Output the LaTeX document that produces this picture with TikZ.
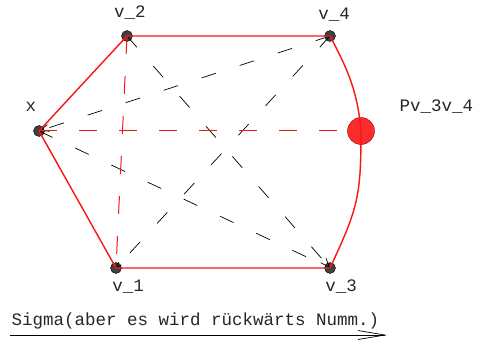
\documentclass[tikz,border=0pt]{standalone}
\usepackage{fontspec}
\setmonofont{Liberation Mono}
\usetikzlibrary{arrows.meta, positioning}
\definecolor{LineRed}{RGB}{250, 20, 20}
\definecolor{DotGray}{RGB}{64, 64, 64}

\begin{document}
\begin{tikzpicture}[x=1pt, y=-1pt,
    every node/.style={font=\ttfamily\fontsize{17.5}{18}\selectfont, text=black!85},
    vertex/.style={circle, draw=black, fill=DotGray, inner sep=0pt, minimum size=11pt},
    pnode/.style={circle, draw=red!60!black, fill=LineRed!90, inner sep=0pt, minimum size=27pt},
    rim/.style={draw=LineRed, line width=1.4pt},
    reddash/.style={color=LineRed, line width=1pt, dash pattern=on 18pt off 22pt},
    diag/.style={draw=black, line width=0.7pt, dash pattern=on 15pt off 25pt},
    arrowtip/.style={-{Straight Barb[length=9pt, width=7pt]}}
]
\useasboundingbox (0,0) rectangle (489,344);

% vertices
\node[vertex] (x) at (39,131) {};
\node[vertex] (v2) at (127,36) {};
\node[vertex] (v4) at (330,36) {};
\node[vertex] (v1) at (116,268) {};
\node[vertex] (v3) at (330,268) {};
\node[pnode] (p) at (361,131) {};

% labels
\node (lx) at (31,107) {x};
\node (lv2) at (130,13) {v\_2};
\node (lv4) at (334,15) {v\_4};
\node (lv1) at (128,287) {v\_1};
\node (lv3) at (341,287) {v\_3};
\node[anchor=west] (lp) at (396,107) {Pv\_3v\_4};

% diagonals
\draw[diag, arrowtip] (v2.center) -- (v3.center);
\draw[diag, arrowtip] (v4.center) -- (x.center);
\draw[diag] (x.center) -- (v3.center);
\draw[diag, -{Straight Barb[length=5pt, width=4pt]}] (v4.center) -- (v1.center);
\draw[reddash] (x.center) -- (p.west);
\draw[reddash] (v2.center) -- (v1.center);

% hull
\draw[rim] (x.center) -- (v2.center) -- (v4.center);
\draw[rim] (v4.center) to[out=-62, in=95] (p.center)
    to[out=-90, in=65, looseness=1.2] (v3.center);
\draw[rim] (v3.center) -- (v1.center) -- (x.center);

% direction
\node[anchor=base west] (sigma) at (8,325.5) {Sigma(aber es wird rückwärts Numm.)};
\coordinate (sl) at (10,335);
\coordinate (sr) at (387,335);
\draw[line width=0.7pt, -{Straight Barb[length=27pt, width=9pt]}] (sl) -- (sr);
\end{tikzpicture}
\end{document}
